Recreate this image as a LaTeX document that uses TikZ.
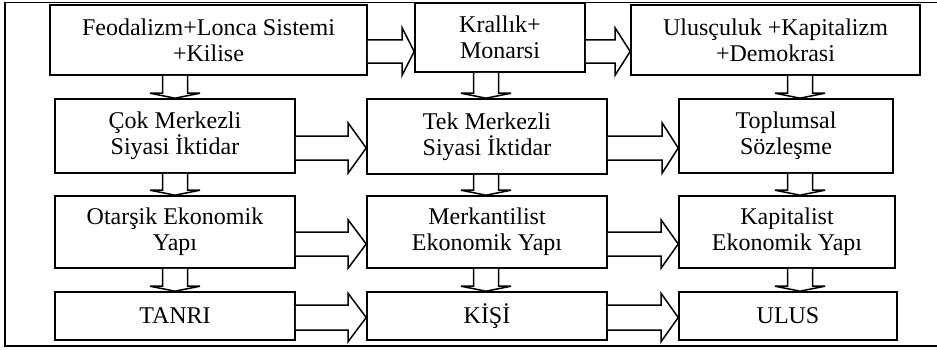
\documentclass[tikz,border=0pt]{standalone}
\usepackage{fontspec}
\setmainfont{Liberation Serif}
\usetikzlibrary{calc}
\tikzset{
  box/.style={draw=black, line width=1.6pt, fill=white, inner sep=0pt, align=center,
              font=\fontsize{24pt}{26pt}\selectfont},
  blockarrow/.style={draw=black, line width=1.5pt, fill=white, line join=miter},
  frame/.style={draw=black, line width=1.3pt}
}
% horizontal block arrow: from, to, centre Y, head length, shaft half, head half
\newcommand{\harr}[6]{%
  \draw[blockarrow] let \p1=(#1.east), \p2=(#2.west) in
    (\x1,#3pt+#5pt) -- (\x2-#4pt,#3pt+#5pt) -- (\x2-#4pt,#3pt+#6pt) -- (\x2,#3pt)
    -- (\x2-#4pt,#3pt-#6pt) -- (\x2-#4pt,#3pt-#5pt) -- (\x1,#3pt-#5pt);}
% vertical block arrow: from, to, centre X
\newcommand{\varr}[3]{%
  \draw[blockarrow] let \p1=(#1.south), \p2=(#2.north) in
    (#3pt-12.5pt,\y1) -- (#3pt-12.5pt,\y2+5pt) -- (#3pt-25pt,\y2+5pt) -- (#3pt,\y2)
    -- (#3pt+25pt,\y2+5pt) -- (#3pt+12.5pt,\y2+5pt) -- (#3pt+12.5pt,\y1);}
\begin{document}
\begin{tikzpicture}
\useasboundingbox (0pt,0pt) rectangle (937pt,349pt);
\draw[frame] (937pt,346.5pt) -- (5pt,346.5pt) -- (5pt,3pt) -- (937pt,3pt);

% row 1
\node[box, minimum width=317pt, minimum height=70pt] (A) at (208.5pt,309pt) {Feodalizm+Lonca Sistemi\\+Kilise};
\node[box, minimum width=170pt, minimum height=69pt] (B) at (500pt,311.5pt) {Krallık+\\Monarsi};
\node[box, minimum width=289pt, minimum height=70pt] (C) at (775.5pt,309pt) {Ulusçuluk +Kapitalizm\\+Demokrasi};
% row 2
\node[box, minimum width=240pt, minimum height=74pt] (D) at (175pt,213pt) {Çok Merkezli\\Siyasi İktidar};
\node[box, minimum width=240pt, minimum height=75pt] (E) at (487pt,212.5pt) {Tek Merkezli\\Siyasi İktidar};
\node[box, minimum width=214pt, minimum height=74pt] (F) at (786pt,213pt) {Toplumsal\\Sözleşme};
% row 3
\node[box, minimum width=240pt, minimum height=72pt] (G) at (175pt,117pt) {Otarşik Ekonomik\\Yapı};
\node[box, minimum width=240pt, minimum height=72pt] (H) at (487pt,117pt) {Merkantilist\\Ekonomik Yapı};
\node[box, minimum width=216pt, minimum height=72pt] (I) at (787pt,117pt) {Kapitalist\\Ekonomik Yapı};
% row 4
\node[box, minimum width=240pt, minimum height=48pt] (J) at (175pt,33pt) {TANRI};
\node[box, minimum width=240pt, minimum height=48pt] (K) at (487pt,33pt) {KİŞİ};
\node[box, minimum width=218pt, minimum height=48pt] (L) at (788pt,33pt) {ULUS};

% horizontal arrows
\harr{A}{B}{297.5}{12}{11.5}{23.5}
\harr{B}{C}{297.5}{15}{11.5}{23.5}
\harr{D}{E}{201}{18}{12}{25}
\harr{E}{F}{201}{16}{12}{25}
\harr{G}{H}{105}{18}{12}{24}
\harr{H}{I}{105}{17}{12}{24}
\harr{J}{K}{31.5}{18}{12.5}{24}
\harr{K}{L}{31.5}{17}{12.5}{24}

% vertical arrows
\varr{A}{D}{175}
\varr{B}{E}{486}
\varr{C}{F}{800}
\varr{D}{G}{175}
\varr{E}{H}{486}
\varr{F}{I}{800}
\varr{G}{J}{175}
\varr{H}{K}{486}
\varr{I}{L}{800}
\end{tikzpicture}
\end{document}
